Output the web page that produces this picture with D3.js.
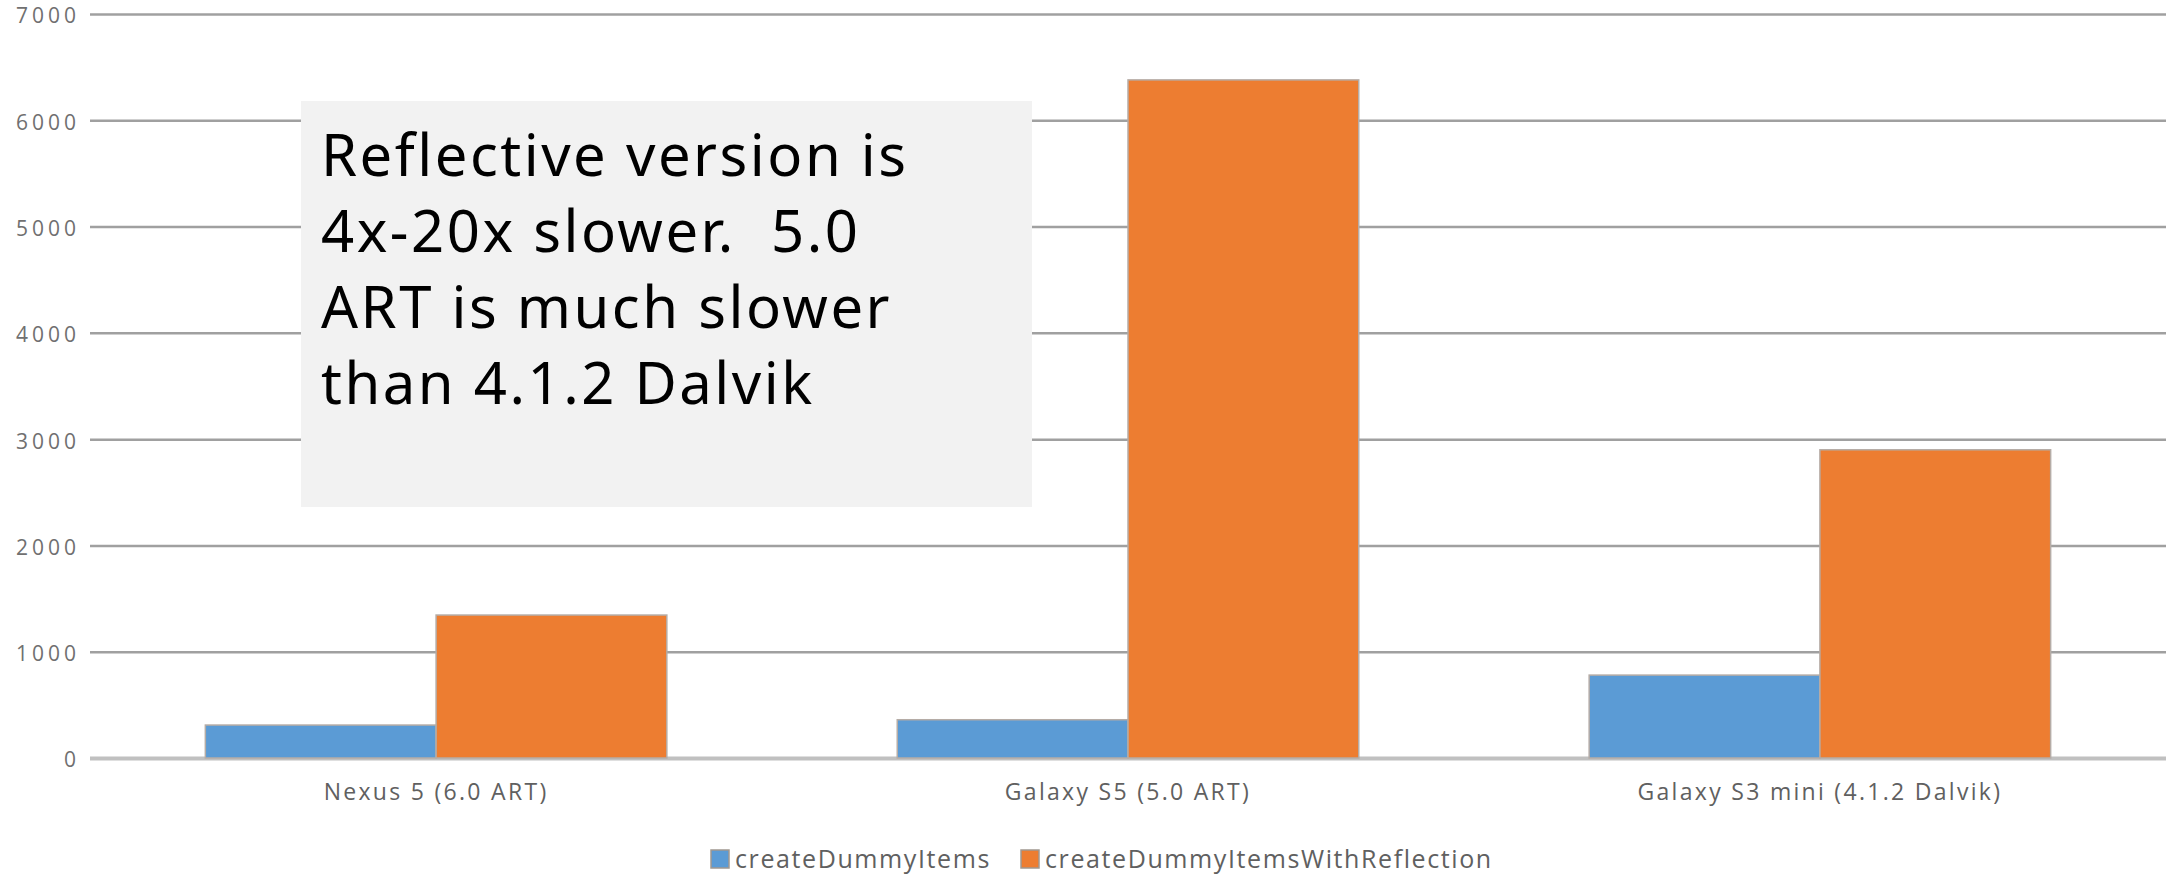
<!DOCTYPE html>
<html>
<head>
<meta charset="utf-8">
<script src="https://cdn.jsdelivr.net/npm/d3@7"></script>
<style>
  body { margin: 0; background: #fff; }
  svg { display: block; }
</style>
</head>
<body>
<script>
var categories = ["Nexus 5 (6.0 ART)", "Galaxy S5 (5.0 ART)", "Galaxy S3 mini (4.1.2 Dalvik)"]
var seriesNames = ["createDummyItems", "createDummyItemsWithReflection"]
var dummyValues = [310, 360, 780]
var reflectionValues = [1345, 6380, 2900]
var yTicks = [0, 1000, 2000, 3000, 4000, 5000, 6000, 7000]
var note = ["Reflective version is", "4x-20x slower.  5.0", "ART is much slower", "than 4.1.2 Dalvik"]

var colors = ["#5b9bd5", "#ed7d31"]
var W = 2177, H = 874
var margin = {top: 14, right: 11, bottom: 116, left: 90}

var svg = d3.select("body")
  .append("svg")
  .attr("width", W)
  .attr("height", H)

var rows = categories.map(function(c, i) {
  return {cat: c, values: [dummyValues[i], reflectionValues[i]]}
})

var y = d3.scaleLinear()
  .domain([0, 7000])
  .range([H - margin.bottom, margin.top])

var x0 = d3.scaleBand()
  .domain(categories)
  .range([margin.left, W - margin.right])
  .paddingInner(0.333)
  .paddingOuter(0.1667)

var x1 = d3.scaleBand()
  .domain(seriesNames)
  .range([0, x0.bandwidth()])

// gridlines
var grid = svg.append("g")
  .attr("transform", "translate(" + margin.left + ",0)")
  .call(d3.axisLeft(y).tickValues(yTicks).tickSize(-(W - margin.left - margin.right)).tickFormat(""))
grid.select(".domain").remove()
grid.selectAll(".tick line")
  .attr("stroke", "#a0a0a0")
  .attr("stroke-width", 2.5)
grid.selectAll(".tick").filter(function(d) { return d == 0 }).select("line")
  .attr("stroke", "#c0c0c0")
  .attr("stroke-width", 4)

// tick labels
svg.append("g")
  .selectAll("text")
  .data(yTicks)
  .enter()
  .append("text")
  .attr("x", 80)
  .attr("y", function(d) { return y(d) })
  .attr("dy", "0.45em")
  .attr("text-anchor", "end")
  .attr("font-family", "Open Sans")
  .attr("font-size", 21)
  .attr("letter-spacing", 4)
  .attr("fill", "#707070")
  .text(function(d) { return d })

// bars
var groups = svg.append("g")
  .selectAll("g")
  .data(rows)
  .enter()
  .append("g")
  .attr("transform", function(r) { return "translate(" + x0(r.cat) + ",0)" })

groups.selectAll("rect")
  .data(function(r) { return r.values.map(function(v, i) { return {name: seriesNames[i], value: v, i: i} }) })
  .enter()
  .append("rect")
  .attr("x", function(d) { return x1(d.name) })
  .attr("y", function(d) { return y(d.value) })
  .attr("width", x1.bandwidth())
  .attr("height", function(d) { return y(0) - y(d.value) })
  .attr("fill", function(d) { return colors[d.i] })
  .attr("stroke", "#b5aca6")
  .attr("stroke-width", 1.5)

// category labels
svg.append("g")
  .selectAll("text")
  .data(categories)
  .enter()
  .append("text")
  .attr("x", function(c) { return x0(c) + x0.bandwidth() / 2 })
  .attr("y", 800)
  .attr("text-anchor", "middle")
  .attr("font-family", "Open Sans")
  .attr("font-size", 23)
  .attr("letter-spacing", 2.3)
  .attr("fill", "#606060")
  .text(function(c) { return c })

// legend
var legendX = [711, 1021]
var legend = svg.append("g")
  .selectAll("g")
  .data(seriesNames)
  .enter()
  .append("g")
  .attr("transform", function(d, i) { return "translate(" + legendX[i] + ",850)" })
legend.append("rect")
  .attr("width", 18)
  .attr("height", 18)
  .attr("fill", function(d, i) { return colors[i] })
  .attr("stroke", "#a09890")
  .attr("stroke-width", 1.5)
legend.append("text")
  .attr("x", 24)
  .attr("y", 18)
  .attr("font-family", "Open Sans")
  .attr("font-size", 25)
  .attr("letter-spacing", 1.6)
  .attr("fill", "#606060")
  .text(function(d) { return d })

// annotation box
svg.append("rect")
  .attr("x", 301)
  .attr("y", 101)
  .attr("width", 731)
  .attr("height", 406)
  .attr("fill", "#f2f2f2")

svg.append("g")
  .selectAll("text")
  .data(note)
  .enter()
  .append("text")
  .attr("x", 321)
  .attr("y", function(d, i) { return 176 + i * 76 })
  .attr("font-family", "Noto Sans")
  .attr("font-size", 58)
  .attr("letter-spacing", 2.5)
  .attr("fill", "#000")
  .style("white-space", "pre")
  .text(function(d) { return d })
</script>
</body>
</html>
